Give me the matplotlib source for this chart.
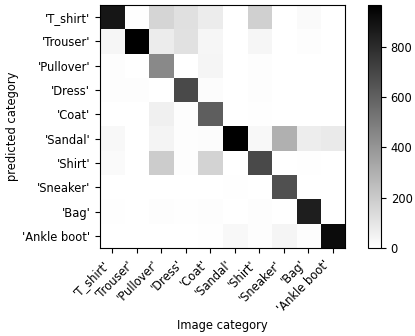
import numpy as np
import matplotlib
matplotlib.use('Agg')
import matplotlib.pyplot as plt

########################################
# Data
########################################

categories = ["'T_shirt'", "'Trouser'", "'Pullover'", "'Dress'", "'Coat'",
              "'Sandal'", "'Shirt'", "'Sneaker'", "'Bag'", "'Ankle boot'"]

# rows = predicted category, columns = image category
row_tshirt   = [880,   5, 160, 120,  75,   0, 180,   0,  20,   0]
row_trouser  = [ 35, 965,  75, 115,  35,   0,  35,   0,  10,   0]
row_pullover = [  8,   0, 445,   3,  40,   0,  10,   0,   2,   0]
row_dress    = [  8,  10,   3, 685,  15,   0,   8,   0,   3,   0]
row_coat     = [  3,   2,  60,   8, 610,   0,   5,   0,   2,   0]
row_sandal   = [ 30,   0,  45,   8,  15, 960,  30, 300,  70,  80]
row_shirt    = [ 20,   0, 195,  10, 165,   0, 685,   0,   5,   0]
row_sneaker  = [  0,   0,   0,   0,   0,   5,   0, 660,   0,   2]
row_bag      = [  5,   0,   8,   5,  10,   3,   8,   3, 850,   0]
row_ankle    = [  0,   0,   0,   3,   5,  30,   8,  40,   8, 920]

conf = np.array([row_tshirt, row_trouser, row_pullover, row_dress, row_coat,
                 row_sandal, row_shirt, row_sneaker, row_bag, row_ankle])

########################################
# Plot
########################################

plt.rcParams['font.size'] = 8.3

fig = plt.figure(figsize=(4.15, 3.36), dpi=100)
ax = fig.add_axes([100 / 415, 1 - 248 / 336, 245 / 415, 243 / 336])
cax = fig.add_axes([368 / 415, 1 - 248 / 336, 13 / 415, 243 / 336])

im = ax.imshow(conf, cmap='gray_r', aspect='auto', interpolation='nearest')
cb = fig.colorbar(im, cax=cax)
cb.set_ticks([0, 200, 400, 600, 800])

ax.set_xticks(range(len(categories)))
ax.set_yticks(range(len(categories)))
ax.set_xticklabels(categories, rotation=45, ha='right')
ax.set_yticklabels(categories)
ax.set_xlabel('Image category', labelpad=3)
ax.set_ylabel('predicted category', labelpad=2)

fig.savefig('out.png', dpi=100)
